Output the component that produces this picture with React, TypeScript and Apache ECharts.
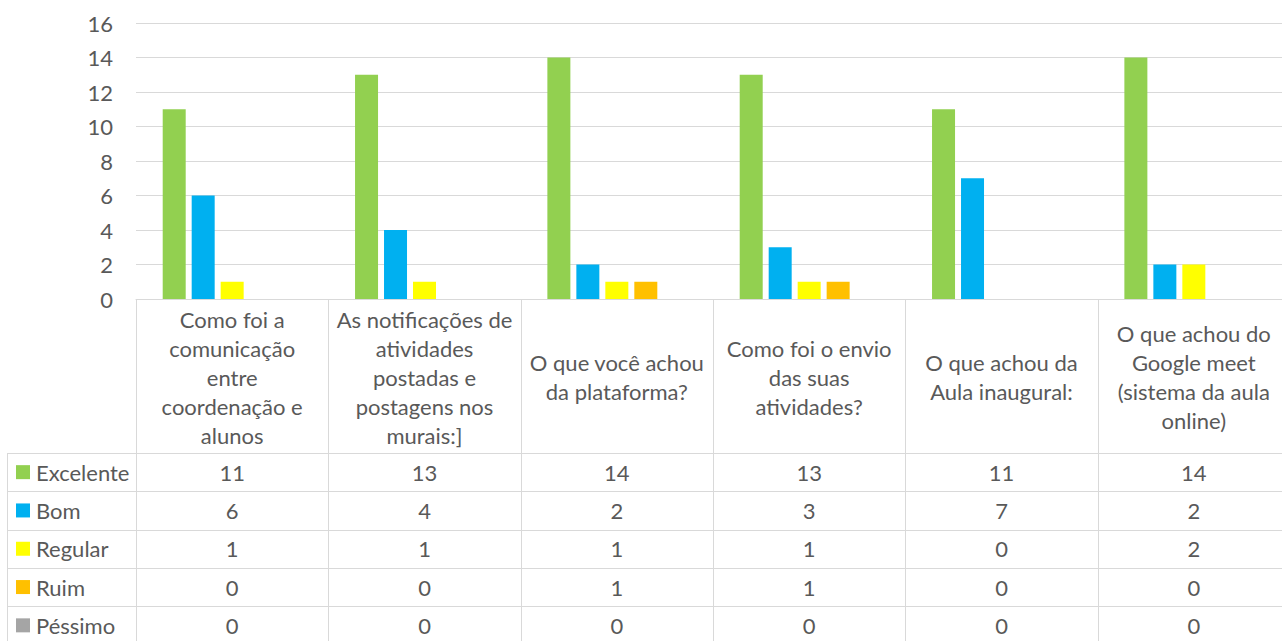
import React, { useEffect, useRef } from "react";
import * as echarts from "echarts";

const categories = [
  "Como foi a\ncomunicação\nentre\ncoordenação e\nalunos",
  "As notificações de\natividades\npostadas e\npostagens nos\nmurais:]",
  "O que você achou\nda plataforma?",
  "Como foi o envio\ndas suas\natividades?",
  "O que achou da\nAula inaugural:",
  "O que achou do\nGoogle meet\n(sistema da aula\nonline)",
];
const seriesNames = ["Excelente", "Bom", "Regular", "Ruim", "Péssimo"];
const excelente = [11, 13, 14, 13, 11, 14];
const bom = [6, 4, 2, 3, 7, 2];
const regular = [1, 1, 1, 1, 0, 2];
const ruim = [0, 0, 1, 1, 0, 0];
const pessimo = [0, 0, 0, 0, 0, 0];
const seriesValues = [excelente, bom, regular, ruim, pessimo];
const seriesColors = ["#92D050", "#00B0F0", "#FFFF00", "#FFC000", "#A5A5A5"];
const yMin = 0;
const yMax = 16;
const yInterval = 2;

const FONT = "Lato, 'Noto Sans', sans-serif";
const FONT_SIZE = 22;
const TEXT_COLOR = "#595959";
const LINE_COLOR = "#d9d9d9";

export default function App() {
  const ref = useRef<HTMLDivElement>(null);
  useEffect(() => {
    if (!ref.current) return;
    const chart = echarts.init(ref.current, undefined, { renderer: "svg" });
    chart.setOption({
      animation: false,
      textStyle: { fontFamily: FONT },
      grid: { left: 136, top: 23, height: 276, right: 0 },
      xAxis: {
        type: "category",
        data: categories,
        axisLine: { show: true, lineStyle: { color: LINE_COLOR, width: 1 } },
        axisTick: { show: false },
        axisLabel: { show: false },
      },
      yAxis: {
        type: "value",
        min: yMin,
        max: yMax,
        interval: yInterval,
        axisLine: { show: false },
        axisTick: { show: false },
        axisLabel: { color: TEXT_COLOR, fontSize: FONT_SIZE, margin: 23, fontFamily: FONT },
        splitLine: { lineStyle: { color: LINE_COLOR, width: 1 } },
      },
      series: seriesNames.map((name, i) => ({
        name,
        type: "bar",
        data: seriesValues[i],
        barWidth: 23,
        barGap: "26%",
        itemStyle: { color: seriesColors[i] },
      })),
    });

    const c0 = chart.convertToPixel({ xAxisIndex: 0 }, 0) as number;
    const c1 = chart.convertToPixel({ xAxisIndex: 0 }, 1) as number;
    const band = c1 - c0;
    const yZero = chart.convertToPixel({ yAxisIndex: 0 }, 0) as number;
    const headerH = 154;
    const rowH = 38.3;
    const tableLeft = 7;
    const bottom = 660;
    const firstLeft = c0 - band / 2;
    const right = firstLeft + band * categories.length;
    const headerBottom = yZero + headerH;

    const graphics: any[] = [];
    const crisp = (v: number) => Math.round(v) + 0.5;
    for (let i = 0; i <= categories.length; i++) {
      const x = crisp(firstLeft + band * i);
      graphics.push({
        type: "line",
        shape: { x1: x, y1: yZero, x2: x, y2: bottom },
        style: { stroke: LINE_COLOR, lineWidth: 1 },
        silent: true,
      });
    }
    graphics.push({
      type: "line",
      shape: { x1: crisp(tableLeft), y1: headerBottom, x2: crisp(tableLeft), y2: bottom },
      style: { stroke: LINE_COLOR, lineWidth: 1 },
      silent: true,
    });
    for (let r = 0; r < seriesNames.length; r++) {
      const y = crisp(headerBottom + rowH * r);
      graphics.push({
        type: "line",
        shape: { x1: tableLeft, y1: y, x2: right, y2: y },
        style: { stroke: LINE_COLOR, lineWidth: 1 },
        silent: true,
      });
    }
    categories.forEach((cat, i) => {
      graphics.push({
        type: "text",
        x: c0 + band * i,
        y: yZero + headerH / 2 + 1,
        style: {
          text: cat,
          fill: TEXT_COLOR,
          font: `${FONT_SIZE}px ${FONT}`,
          lineHeight: 29,
          align: "center",
          verticalAlign: "middle",
        },
        silent: true,
      });
    });
    seriesNames.forEach((name, r) => {
      const cy = headerBottom + rowH * r + rowH / 2;
      graphics.push({
        type: "rect",
        shape: { x: 16, y: cy - 7, width: 14, height: 14 },
        style: { fill: seriesColors[r] },
        silent: true,
      });
      graphics.push({
        type: "text",
        x: 36,
        y: cy,
        style: {
          text: name,
          fill: TEXT_COLOR,
          font: `${FONT_SIZE}px ${FONT}`,
          align: "left",
          verticalAlign: "middle",
        },
        silent: true,
      });
      seriesValues[r].forEach((v, i) => {
        graphics.push({
          type: "text",
          x: c0 + band * i,
          y: cy,
          style: {
            text: String(v),
            fill: TEXT_COLOR,
            font: `${FONT_SIZE}px ${FONT}`,
            align: "center",
            verticalAlign: "middle",
          },
          silent: true,
        });
      });
    });
    chart.setOption({ graphic: graphics });

    return () => chart.dispose();
  }, []);
  return (
    <div
      style={{ position: "fixed", left: 0, top: 0, width: 1282, height: 641, overflow: "hidden", background: "#fff" }}
    >
      <div ref={ref} style={{ width: 1290, height: 641 }} />
    </div>
  );
}
